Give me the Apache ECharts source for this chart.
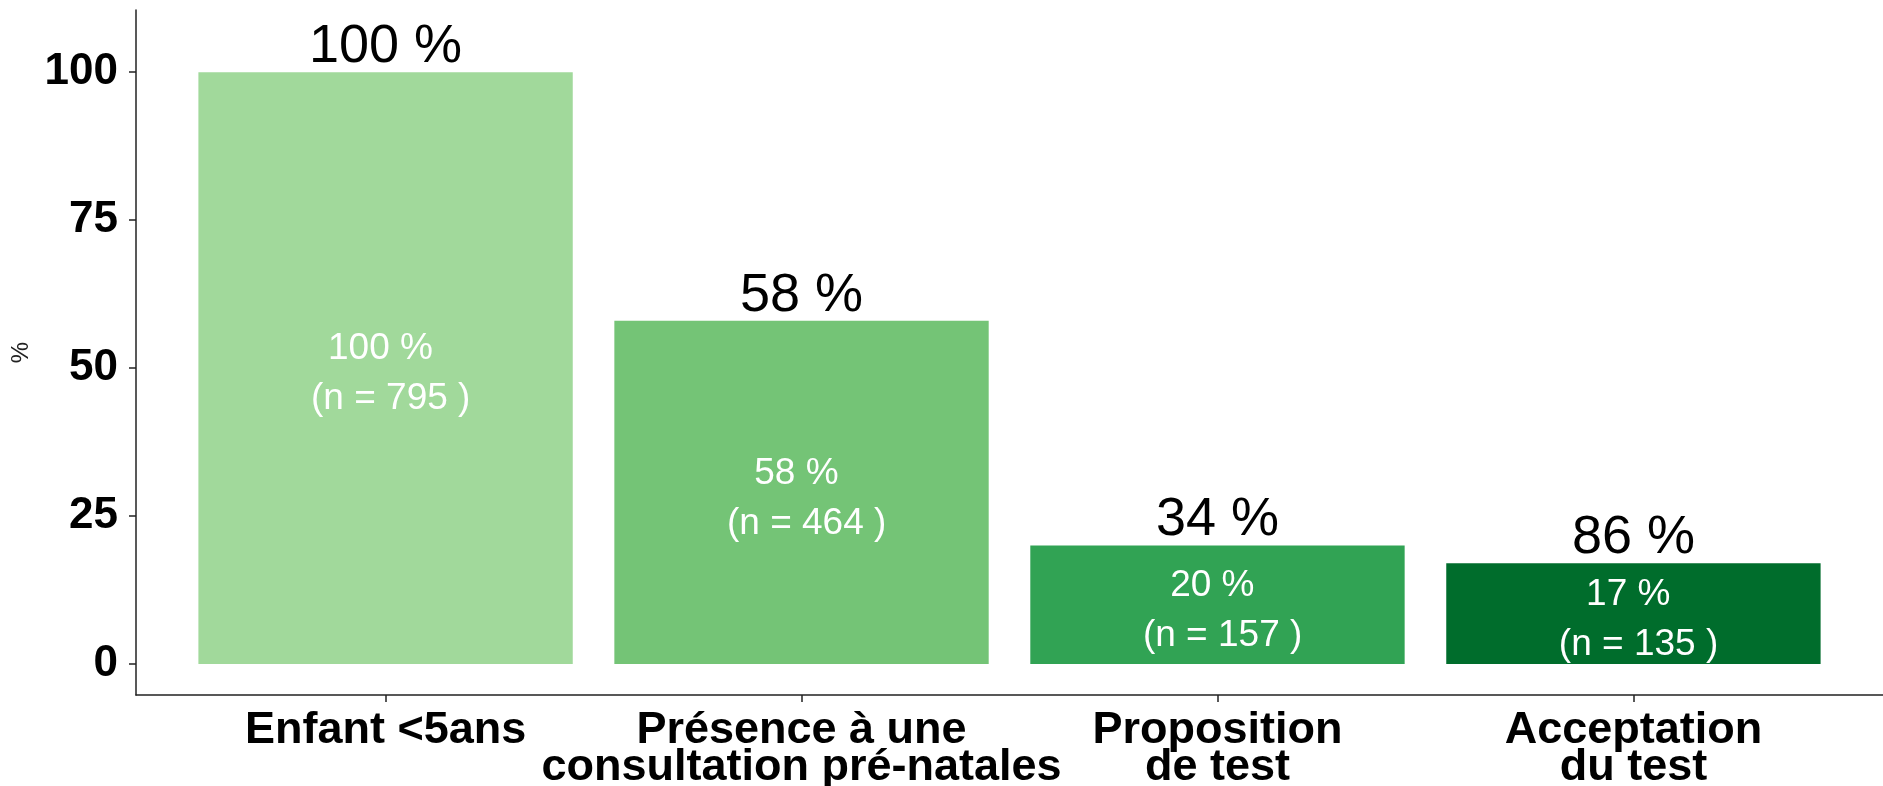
<!DOCTYPE html>
<html>
<head>
<meta charset="utf-8">
<script src="https://cdn.jsdelivr.net/npm/echarts@6/dist/echarts.min.js"></script>
<style>
html,body{margin:0;padding:0;background:#fff;}
#chart{width:1883px;height:786px;}
</style>
</head>
<body>
<div id="chart"></div>
<script>
const categories = ['Enfant <5ans', 'Présence à une\nconsultation pré-natales', 'Proposition\nde test', 'Acceptation\ndu test'];
const positions = [1, 2, 3, 4];
const values = [100, 58, 20, 17];
const counts = [795, 464, 157, 135];
const stepRates = [100, 58, 34, 86];
const colors = ['#A1D99B', '#74C476', '#31A354', '#006D2C'];
const yTicks = [0, 25, 50, 75, 100];

const FONT = "'Liberation Sans', Arial, sans-serif";
const chart = echarts.init(document.getElementById('chart'));

const barData = values.map((v, i) => ({ value: [positions[i], v], itemStyle: { color: colors[i] } }));
const overlayData = values.map((v, i) => [positions[i], v]);

chart.setOption({
  animation: false,
  backgroundColor: '#ffffff',
  grid: { left: 136, right: 0, top: 10, bottom: 91, containLabel: false, outerBoundsMode: 'none' },
  xAxis: {
    type: 'value',
    min: 0.4, max: 4.6,
    axisLine: { show: true, onZero: false, lineStyle: { color: '#222', width: 1.5 } },
    axisTick: { show: true, customValues: positions, length: 7, lineStyle: { color: '#222', width: 1.5 } },
    splitLine: { show: false },
    axisLabel: {
      customValues: positions,
      formatter: (v) => categories[positions.indexOf(Math.round(v))] || '',
      fontFamily: FONT, fontWeight: 'bold', fontSize: 45, lineHeight: 37,
      color: '#000', margin: 17
    }
  },
  yAxis: {
    type: 'value',
    min: -5.25, max: 110.5,
    name: '%', nameLocation: 'middle', nameGap: 98, nameRotate: 90,
    nameTextStyle: { fontFamily: FONT, fontSize: 24, color: '#222' },
    axisLine: { show: true, onZero: false, lineStyle: { color: '#222', width: 1.5 } },
    axisTick: { show: true, customValues: yTicks, length: 7, lineStyle: { color: '#222', width: 1.5 } },
    splitLine: { show: false },
    axisLabel: {
      customValues: yTicks,
      fontFamily: FONT, fontWeight: 'bold', fontSize: 44, color: '#000', margin: 18
    }
  },
  series: [
    {
      type: 'bar',
      barWidth: '90%',
      data: barData,
      label: {
        show: true, position: 'inside', offset: [0, 6],
        formatter: (p) => values[p.dataIndex] + ' % \n (n = ' + counts[p.dataIndex] + ' )',
        fontFamily: FONT, fontSize: 37, lineHeight: 50, color: '#ffffff'
      }
    },
    {
      type: 'bar',
      barWidth: '90%',
      barGap: '-100%',
      data: overlayData,
      itemStyle: { color: 'transparent' },
      silent: true,
      z: 5,
      label: {
        show: true, position: 'top', distance: -2,
        formatter: (p) => stepRates[p.dataIndex] + ' %',
        fontFamily: FONT, fontSize: 54, color: '#000'
      }
    }
  ]
});
</script>
</body>
</html>
